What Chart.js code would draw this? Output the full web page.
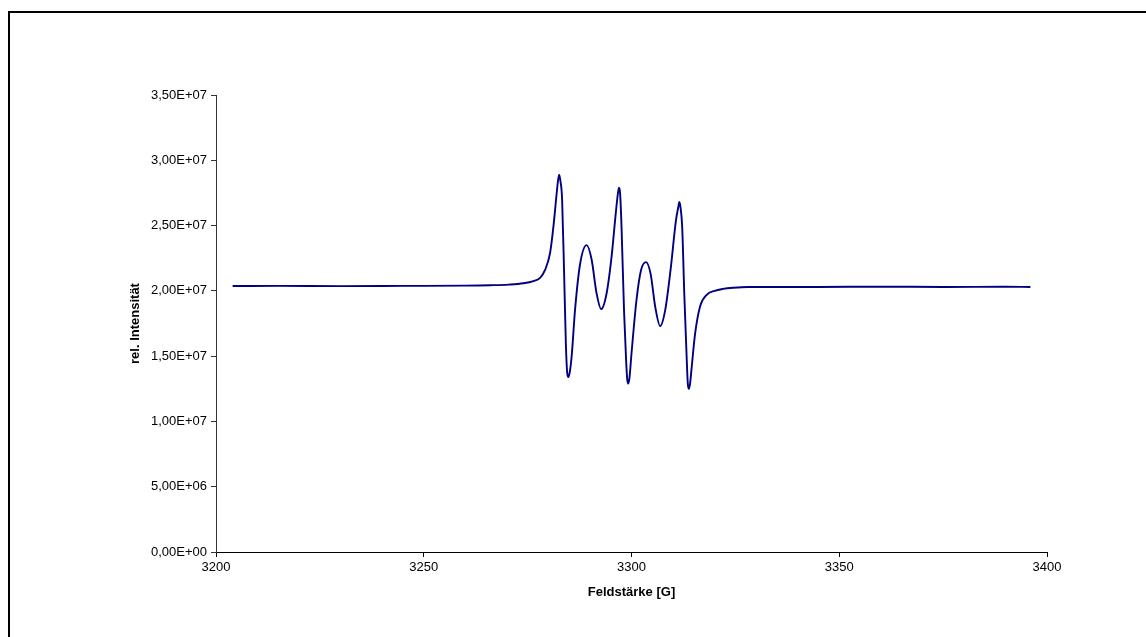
<!DOCTYPE html>
<html>
<head>
<meta charset="utf-8">
<title>ESR-Spektrum</title>
<script src="https://cdn.jsdelivr.net/npm/chart.js@4/dist/chart.umd.min.js"></script>
<style>
    html, body { margin: 0; padding: 0; background: #fff; }
    #wrap { width: 1146px; height: 637px; position: relative; }
</style>
</head>
<body>
<div id="wrap"><canvas id="spectrum"></canvas></div>
<script>
// Feldstärke [G] and rel. Intensität
var fieldValues = [
    3204, 3215, 3230, 3245, 3260, 3266.0, 3270.5, 3274.0, 3276.4, 3278.0, 3279.2,
    3280.4, 3281.2, 3282.0, 3282.3, 3282.6, 3282.9, 3283.3, 3283.8, 3284.2, 3284.5,
    3284.8, 3285.1, 3285.6, 3286.4, 3287.6, 3289.2, 3290.4, 3291.6, 3292.7, 3294.0,
    3295.2, 3296.2, 3296.75, 3297.0, 3297.25, 3297.6, 3298.2, 3298.7, 3298.95, 3299.2,
    3299.5, 3300.0, 3301.2, 3302.3, 3303.5, 3304.6, 3305.7, 3306.9, 3308.1, 3309.4,
    3310.7, 3311.25, 3311.5, 3311.8, 3312.2, 3312.7, 3313.3, 3313.55, 3313.8, 3314.1,
    3314.5, 3315.3, 3316.5, 3318.1, 3320.0, 3322.0, 3324.5, 3328, 3345, 3360,
    3375, 3390, 3396
];
var intensityValues = [
    2.037e7, 2.038e7, 2.036e7, 2.038e7, 2.040e7, 2.043e7, 2.048e7, 2.058e7, 2.075e7, 2.10e7, 2.16e7,
    2.29e7, 2.49e7, 2.75e7, 2.84e7, 2.89e7, 2.84e7, 2.70e7, 2.11e7, 1.60e7, 1.38e7,
    1.34e7, 1.37e7, 1.50e7, 1.85e7, 2.20e7, 2.35e7, 2.24e7, 1.98e7, 1.86e7, 1.98e7,
    2.26e7, 2.59e7, 2.75e7, 2.79e7, 2.75e7, 2.49e7, 1.85e7, 1.47e7, 1.33e7, 1.29e7,
    1.33e7, 1.52e7, 1.93e7, 2.16e7, 2.22e7, 2.13e7, 1.88e7, 1.73e7, 1.85e7, 2.16e7,
    2.54e7, 2.64e7, 2.68e7, 2.64e7, 2.49e7, 1.98e7, 1.47e7, 1.29e7, 1.25e7, 1.29e7,
    1.42e7, 1.67e7, 1.88e7, 1.97e7, 2.0e7, 2.015e7, 2.024e7, 2.030e7, 2.030e7, 2.032e7,
    2.030e7, 2.031e7, 2.030e7
];

var xTicks = { min: 3200, max: 3400, step: 50 };
var yTicks = { min: 0, max: 3.5e7, step: 5e6 };

// Excel-style scientific label, e.g. 3,50E+07
function formatSci(v) {
    if (v === 0) return '0,00E+00';
    var exp = Math.floor(Math.log10(Math.abs(v)) + 1e-9);
    var mant = v / Math.pow(10, exp);
    var sign = exp < 0 ? '-' : '+';
    var e = String(Math.abs(exp));
    if (e.length < 2) e = '0' + e;
    return mant.toFixed(2).replace('.', ',') + 'E' + sign + e;
}

// Frame of the picture (only top and left edges are visible)
var framePlugin = {
    id: 'frame',
    afterDraw: function (chart) {
        var ctx = chart.ctx;
        ctx.save();
        ctx.strokeStyle = '#000';
        ctx.lineWidth = 2;
        ctx.beginPath();
        ctx.moveTo(9, chart.height);
        ctx.lineTo(9, 12);
        ctx.lineTo(chart.width, 12);
        ctx.stroke();
        ctx.restore();
    }
};

var points = fieldValues.map(function (x, i) {
    return { x: x, y: intensityValues[i] };
});

var tickFont = { family: 'Arial, "Liberation Sans", sans-serif', size: 13 };
var titleFont = { family: 'Arial, "Liberation Sans", sans-serif', size: 13, weight: 'bold' };

new Chart(document.getElementById('spectrum'), {
    type: 'line',
    data: {
        datasets: [{
            label: 'Spektrum',
            data: points,
            borderColor: '#000080',
            borderWidth: 1.9,
            pointRadius: 0,
            fill: false,
            cubicInterpolationMode: 'monotone'
        }]
    },
    options: {
        responsive: true,
        maintainAspectRatio: false,
        animation: false,
        layout: { padding: { left: 0, top: 95, right: 99, bottom: 0 } },
        plugins: {
            legend: { display: false },
            tooltip: { enabled: false }
        },
        scales: {
            x: {
                type: 'linear',
                min: xTicks.min,
                max: xTicks.max,
                afterFit: function (scale) { scale.height = 85; },
                ticks: {
                    stepSize: xTicks.step,
                    color: '#000',
                    font: tickFont,
                    padding: 3,
                    maxRotation: 0,
                    callback: function (v) { return String(v); }
                },
                grid: {
                    drawOnChartArea: false,
                    drawTicks: true,
                    tickLength: 5,
                    color: '#000'
                },
                border: { display: true, color: '#000', width: 1 },
                title: {
                    display: true,
                    text: 'Feldstärke [G]',
                    color: '#000',
                    font: titleFont,
                    padding: { top: 0, bottom: 37 }
                }
            },
            y: {
                min: yTicks.min,
                max: yTicks.max,
                afterFit: function (scale) { scale.width = 216; },
                ticks: {
                    stepSize: yTicks.step,
                    color: '#000',
                    font: tickFont,
                    padding: 4,
                    callback: function (v) { return formatSci(v); }
                },
                grid: {
                    drawOnChartArea: false,
                    drawTicks: true,
                    tickLength: 5,
                    color: '#333'
                },
                border: { display: true, color: '#333', width: 1 },
                title: {
                    display: true,
                    text: 'rel. Intensität',
                    color: '#000',
                    font: titleFont,
                    padding: { top: 128, bottom: 0 }
                }
            }
        }
    },
    plugins: [framePlugin]
});
</script>
</body>
</html>
